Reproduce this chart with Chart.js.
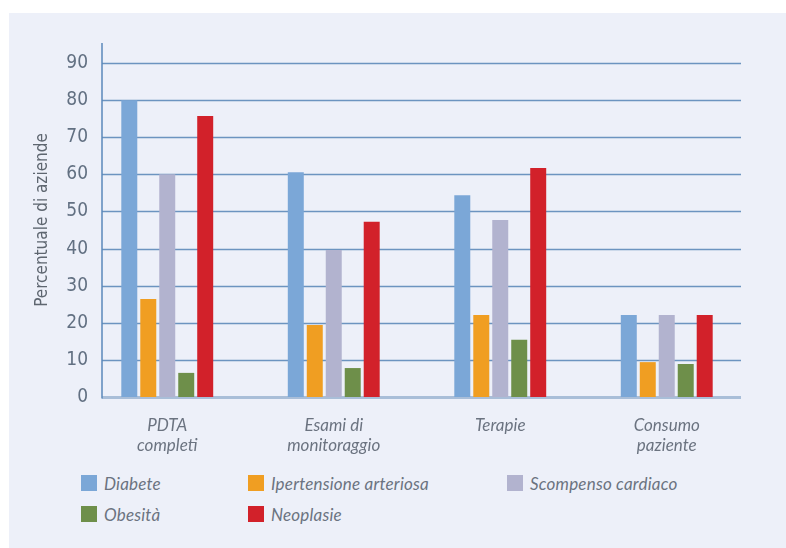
<!DOCTYPE html>
<html>
<head>
<meta charset="utf-8">
<script src="https://cdn.jsdelivr.net/npm/chart.js@4/dist/chart.umd.min.js"></script>
<style>
  html, body { margin: 0; padding: 0; background: #fff; }
  body { width: 786px; height: 548px; position: relative; overflow: hidden; }
  #panel { position: absolute; left: 9px; top: 13px; width: 777px; height: 535px; background: #EDF0F9; }
  #wrap { position: absolute; left: 0; top: 0; width: 786px; height: 457px; }
  #legend { position: absolute; left: 81px; top: 475px; display: grid;
            grid-template-columns: 167px 259px 240px; row-gap: 15px;
            font-family: Lato, sans-serif; font-style: italic; font-size: 17px;
            letter-spacing: 0.2px; color: #6B7380; }
  #legend div { display: flex; align-items: center; height: 16px; }
  #legend span.box { width: 16px; height: 16px; margin-right: 7px; display: inline-block; }
</style>
</head>
<body>
<div id="panel"></div>
<div id="wrap"><canvas id="myChart"></canvas></div>
<div id="legend"></div>
<script>
const categories = [
    ['PDTA', 'completi'],
    ['Esami di', 'monitoraggio'],
    ['Terapie'],
    ['Consumo', 'paziente'],
];

const diabete = [80, 60.6, 54.4, 22.1];
const ipertensione = [26.4, 19.4, 22.1, 9.4];
const scompenso = [60, 39.6, 47.7, 22.1];
const obesita = [6.5, 7.8, 15.4, 8.9];
const neoplasie = [75.7, 47.2, 61.7, 22.1];

const yTicks = [0, 10, 20, 30, 40, 50, 60, 70, 80, 90];

const data = {
    labels: categories,
    datasets: [
        { label: 'Diabete', backgroundColor: '#7BA7D7', data: diabete },
        { label: 'Ipertensione arteriosa', backgroundColor: '#F09E22', data: ipertensione },
        { label: 'Scompenso cardiaco', backgroundColor: '#B2B3CF', data: scompenso },
        { label: 'Obesità', backgroundColor: '#6E8F4A', data: obesita },
        { label: 'Neoplasie', backgroundColor: '#D2212A', data: neoplasie },
    ]
};

// the value axis sits a little inside the category band, and the grid
// stops short of the right edge, like the original
const axisInset = 18;
const gridInset = 9;

const shortGrid = {
    id: 'shortGrid',
    beforeDatasetsDraw(chart) {
        const { ctx, chartArea, scales: { y } } = chart;
        const start = chartArea.left + axisInset;
        const end = chartArea.right - gridInset;
        ctx.save();
        ctx.strokeStyle = '#6C94C0';
        ctx.lineWidth = 1.4;
        yTicks.forEach(v => {
            if (v === 0) return;
            const py = Math.round(y.getPixelForValue(v)) + 0.5;
            ctx.beginPath();
            ctx.moveTo(start, py);
            ctx.lineTo(end, py);
            ctx.stroke();
        });
        ctx.strokeStyle = '#A9BED8';
        ctx.lineWidth = 3;
        const py0 = y.getPixelForValue(0) + 0.5;
        ctx.beginPath();
        ctx.moveTo(start, py0);
        ctx.lineTo(end, py0);
        ctx.stroke();
        // value axis line
        ctx.strokeStyle = '#5A88BA';
        ctx.lineWidth = 1.5;
        ctx.beginPath();
        ctx.moveTo(start, chartArea.top);
        ctx.lineTo(start, py0 + 1);
        ctx.stroke();
        ctx.restore();
    }
};

const config = {
    type: 'bar',
    data: data,
    plugins: [shortGrid],
    options: {
        responsive: true,
        maintainAspectRatio: false,
        animation: false,
        layout: { padding: { top: 43, right: 36, left: 0, bottom: 0 } },
        datasets: {
            bar: { barPercentage: 0.842, categoryPercentage: 0.57 }
        },
        plugins: {
            legend: { display: false },
            tooltip: { enabled: false }
        },
        scales: {
            x: {
                grid: { display: false, drawTicks: false },
                border: { display: false },
                ticks: {
                    padding: 18,
                    maxRotation: 0,
                    color: '#6B7380',
                    font: { family: 'Lato', style: 'italic', size: 17, lineHeight: 1.18 }
                },
                afterFit(scale) { scale.height = 60; }
            },
            y: {
                min: 0,
                max: 95.4,
                afterBuildTicks(scale) { scale.ticks = yTicks.map(v => ({ value: v })); },
                grid: { display: false, drawTicks: false },
                border: { display: false },
                ticks: {
                    padding: -4,
                    color: '#627082',
                    font: { family: "'Liberation Sans Narrow', 'DejaVu Sans Condensed', sans-serif", size: 19 }
                },
                title: {
                    display: true,
                    text: 'Percentuale di aziende',
                    color: '#5E6670',
                    padding: { top: 32, bottom: 0 },
                    font: { family: "'Liberation Sans Narrow', 'DejaVu Sans Condensed', sans-serif", size: 17 }
                },
                afterFit(scale) {
                    scale.width = 84;
                    // labels run a few px past the scale box, don't clip them
                    scale._computeLabelArea = () => undefined;
                }
            }
        }
    }
};

let myChart = new Chart(document.getElementById('myChart'), config);

// legend laid out in aligned columns
let legend = document.getElementById('legend');
myChart.data.datasets.forEach(ds => {
    let item = document.createElement('div');
    let box = document.createElement('span');
    box.className = 'box';
    box.style.background = ds.backgroundColor;
    item.appendChild(box);
    item.appendChild(document.createTextNode(ds.label));
    legend.appendChild(item);
});
</script>
</body>
</html>
